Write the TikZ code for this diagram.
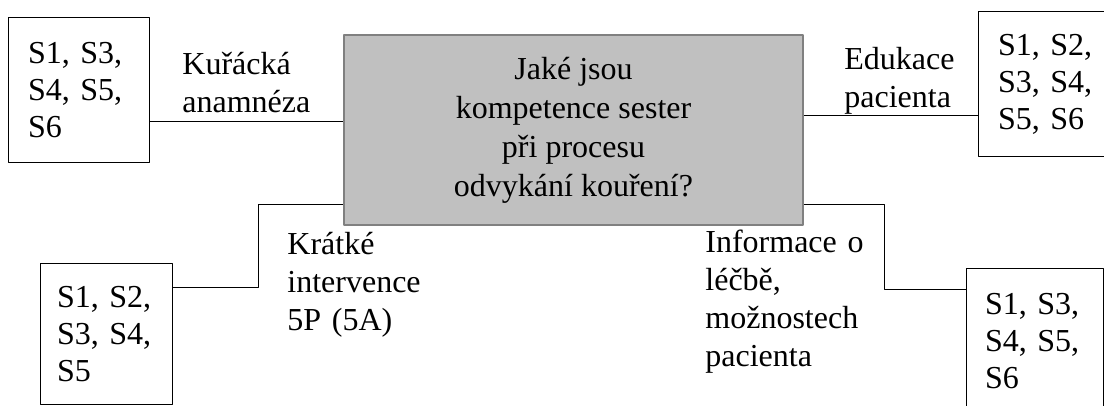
\documentclass[tikz,border=0pt]{standalone}
\usepackage{fontspec}
\setmainfont{Liberation Serif}
\usetikzlibrary{positioning}
\definecolor{sedavypln}{HTML}{C0C0C0}
\definecolor{sedaokraj}{HTML}{808080}
\tikzset{
sbox/.style={draw, line width=0.5pt, align=left, inner xsep=10pt, inner ysep=0pt, minimum height=72.5pt, font=\fontsize{16}{18.5}\selectfont},
otazka/.style={draw=sedaokraj, fill=sedavypln, line width=1pt, align=center, minimum width=229.5pt, minimum height=95pt, font=\fontsize{16}{19.5}\selectfont},
popis/.style={anchor=base west, align=left, text width=100pt, inner sep=0pt, font=\fontsize{16}{19}\selectfont},
spoj/.style={line width=0.5pt}
}

\begin{document}
\begin{tikzpicture}[x=0.5pt, y=-0.5pt, line join=round]
\clip (0,0) rectangle (1104,406);
\node[otazka] (otazka) at (573.5,130) {Jaké jsou\\kompetence sester\\při procesu\\odvykání kouření?};
\node[sbox, text width=50.5pt] (s1) at (78.5,90.5) {S1, S3,\\S4, S5,\\S6};
\node[sbox, text width=50.5pt] (s2) at (1048.5,84.5) {S1, S2,\\S3, S4,\\S5, S6};
\node[sbox, text width=49pt, inner xsep=8.5pt, minimum height=70.5pt] (s3) at (106,334.5) {S1, S2,\\S3, S4,\\S5};
\node[sbox, text width=49.5pt, inner xsep=9.5pt] (s4) at (1034.5,341.5) {S1, S3,\\S4, S5,\\S6};
\node[popis] (kur) at (182,75) {Kuřácká\\anamnéza};
\node[popis] (edu) at (844,70) {Edukace\\pacienta};
\node[popis] (kra) at (287,255) {Krátké\\intervence\\5P (5A)};
\node[popis] (inf) at (705,253) {Informace o\\léčbě,\\možnostech\\pacienta};
% spojnice
\coordinate (k1) at (250,122);
\coordinate (k2) at (900,116);
\coordinate (k3) at (258,288);
\coordinate (k4) at (258,205);
\coordinate (k5) at (884,205);
\coordinate (k6) at (884,290);
\draw[spoj] (s1.east |- k1) -- (otazka.west |- k1);
\draw[spoj] (otazka.east |- k2) -- (s2.west |- k2);
\draw[spoj] (s3.east |- k3) -- (k3) -- (k4) -- (otazka.west |- k4);
\draw[spoj] (otazka.east |- k5) -- (k5) -- (k6) -- (s4.west |- k6);
\end{tikzpicture}
\end{document}
